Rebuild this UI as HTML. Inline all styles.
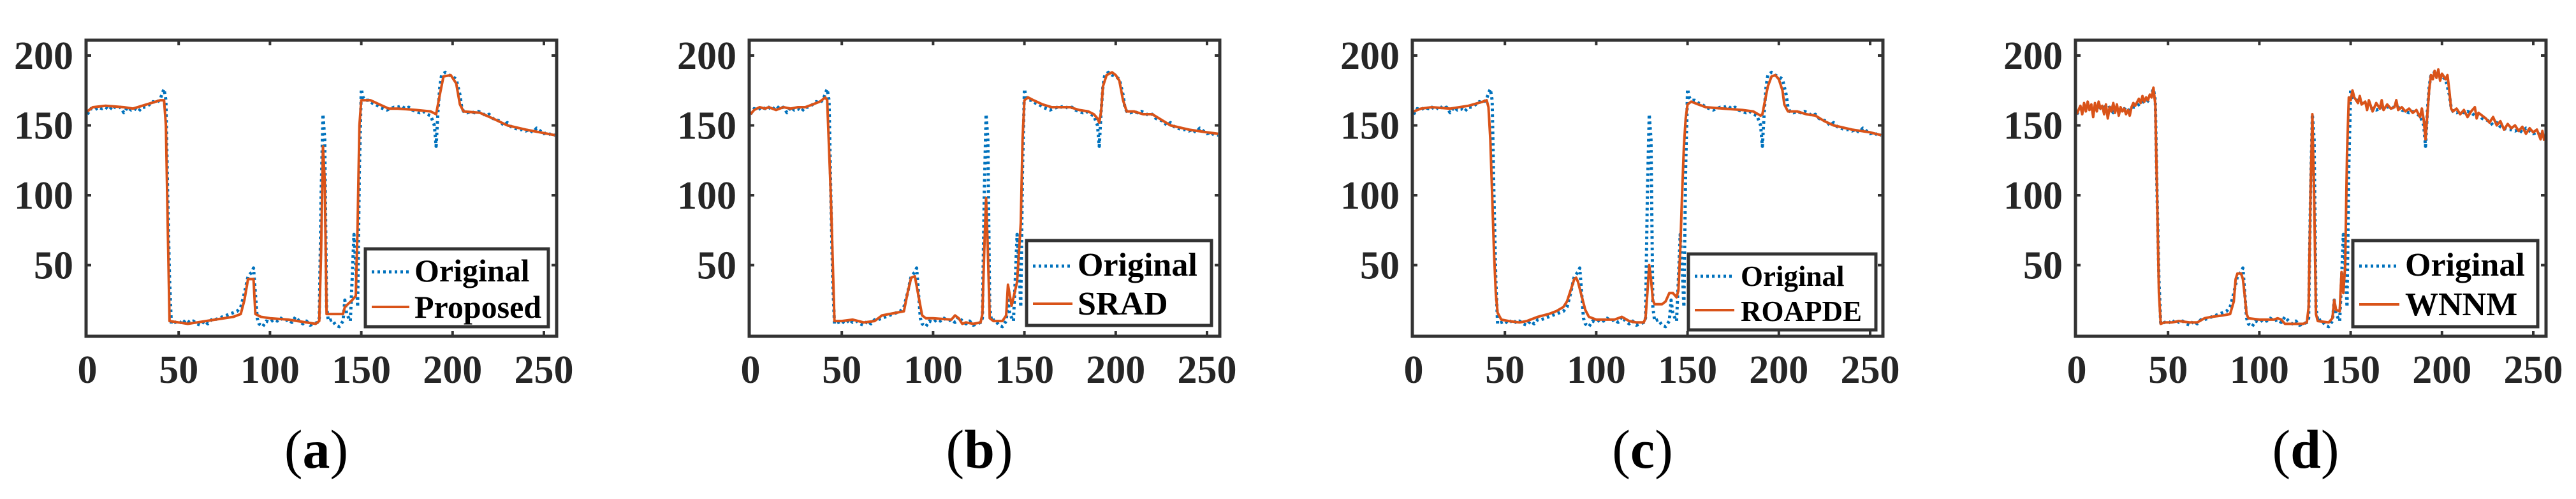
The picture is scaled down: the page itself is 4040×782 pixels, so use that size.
<!DOCTYPE html>
<html><head><meta charset="utf-8">
<style>
html,body{margin:0;padding:0;background:#fff;}
svg{display:block;}
svg text{font-family:"Liberation Serif","Times New Roman",serif;}
</style></head>
<body>
<svg id="fig" width="4040" height="782" viewBox="0 0 4040 782" xmlns="http://www.w3.org/2000/svg"></svg>
<script>
// ---- data ----
const xTicks = [0, 50, 100, 150, 200, 250];
const yTicks = [50, 100, 150, 200];
const panelLabels = ["a", "b", "c", "d"];
const methodNames = ["Proposed", "SRAD", "ROAPDE", "WNNM"];

const origX = [0,2,4,6,8,10,12,14,16,18, 20,22,24,26,28,30,32,34,36,38, 40,41,42,43,44,45,46,48,50,52,
 54,56,58,60,62,64,66,68,70,72, 74,76,78,80,82,84,86,88,90,91, 92,93,94,96,98,100,102,104,106,108,
 110,112,114,116,118,120,122,124,126,127, 128,129,130,131,132,134,136,138,140,141, 142,144,145,146,147,148,149,150,151,152,
 154,156,158,160,162,164,166,168,170,172, 174,176,178,180,182,184,186,188,190,191, 192,193,194,196,198,200,202,204,205,206,
 208,210,212,214,216,218,220,222,224,226, 228,230,232,234,236,238,240,242,244,246, 248,250,252,254,256];
const origY = [158,162,161,163,162,163,161,164,162,163, 159,163,161,162,160,163,163,165,167,166, 169,173,176,168,100,40,8,9,10,8,
 11,9,10,8,7,10,8,11,11,12, 13,14,15,16,17,20,30,42,45,48, 30,12,8,6,10,9,11,10,12,10,
 11,9,13,10,8,10,7,8,9,12, 100,158,140,20,10,11,7,6,10,25, 15,10,40,72,50,20,120,176,170,168,
 168,166,165,163,162,161,162,163,163,164, 162,163,161,160,159,160,158,157,150,135, 160,178,186,188,186,185,183,172,163,160,
 159,160,159,160,159,157,158,155,154,153, 150,152,149,148,147,147,146,147,145,148, 146,144,145,143,143];

const propX = [0,3,10,20,25,30,40,42,43,44, 45,50,55,60,70,80,84,86,88,91, 92,95,100,110,115,125,127,128,129,130,
 131,137,140,141,145,147,148,149,150,155, 160,165,170,180,188,191,193,195,199,202, 204,206,215,222,230,240,256];
const propY = [160,163,164,163,162,164,168,168,150,80, 10,9,8,9,11,13,15,25,40,40, 15,13,12,11,10,8,10,60,135,110,
 15,15,15,20,25,28,80,150,168,168, 165,162,162,161,160,158,172,185,186,180, 165,160,159,155,150,147,143];

const sradX = [0,2,5,8,10,14,18,22,26,30, 34,38,41,42,44,46,50,56,62,68, 72,76,80,84,86,88,90,92,94,96,
 100,110,112,114,116,118,122,126,127,128, 129,130,131,133,138,140,141,143,146,148, 149,150,152,155,160,165,170,175,180,185,
 188,190,191,192,193,195,198,200,202,204, 206,210,215,220,225,230,240,250,256];
const sradY = [158,161,163,162,163,161,163,162,163,163, 165,167,170,168,100,10,10,11,9,10, 14,15,16,17,30,41,42,28,14,12,
 12,11,14,12,8,9,8,9,15,60, 98,60,12,10,10,14,36,21,38,80, 140,168,170,168,165,163,163,163,161,160,
 158,155,152,160,178,186,188,186,182,168, 160,160,158,158,154,150,147,145,144];

const roapX = [0,4,10,20,30,38,40,41,42,43, 44,45,46,48,52,58,62,68,74,78, 82,84,86,88,89,90,92,94,96,100,
 110,114,118,122,126,127,128,129,130,131, 132,136,138,140,142,144,145,146,147,148, 149,150,152,156,160,170,180,186,190,191,
 192,194,196,198,200,202,203,205,210,215, 220,225,230,240,250,256];
const roapY = [160,162,163,162,164,167,168,163,140,100, 60,30,16,11,10,9,10,13,15,17, 20,24,32,40,41,38,28,18,13,11,
 11,13,10,9,9,12,30,50,40,25, 22,22,24,30,30,27,32,60,100,135, 155,165,167,165,163,162,161,160,157,158,
 165,178,185,186,183,175,165,160,160,158, 157,153,150,147,145,143];

const wnnmX = [0,2,3,4,5,6,7,8,9,10, 11,12,13,14,15,16,17,18,19,20, 21,22,23,24,25,26,27,28,29,30,
 31,32,34,35,36,37,38,39,40,41, 42,43,44,45,46,48,52,56,62,66, 70,74,80,84,86,87,88,90,91,92,
 93,94,100,108,110,112,114,116,124,126, 127,128,129,130,131,132,138,140,141,142, 144,145,146,147,148,149,150,151,152,154,
 155,156,158,159,160,162,164,166,167,168, 170,172,174,175,176,178,180,182,184,186, 188,189,190,191,192,193,194,195,196,197,
 198,199,200,202,203,204,205,206,208,210, 212,214,216,218,219,220,222,224,226,228, 230,232,234,236,238,240,242,244,246,248,
 250,252,254,255,256];
const wnnmY = [158,164,158,166,160,167,161,165,156,166, 160,167,162,164,158,165,155,163,160,166, 159,165,157,163,160,162,158,161,157,163,
 166,164,169,166,171,167,170,168,172,170, 177,165,100,30,8,9,9,10,9,9, 12,13,14,15,24,40,44,44,40,28,
 15,12,11,11,12,11,8,8,8,9, 20,100,158,100,15,10,9,12,25,18, 17,45,30,50,130,170,168,175,170,166,
 171,165,167,161,168,160,166,162,168,161, 165,162,163,168,161,163,160,162,159,161, 156,162,154,140,158,176,186,183,189,184,
 190,182,187,183,186,175,162,160,162,158, 161,156,160,163,155,159,157,155,152,156, 150,153,147,151,148,150,146,149,144,148,
 145,147,140,146,139];

const methodX = [propX, sradX, roapX, wnnmX];
const methodY = [propY, sradY, roapY, wnnmY];

// ---- layout ----
const PANEL_DX = 1040;
const AX = {l:135, r:873, t:63, b:527};
const X0 = 137, XS = 2.864, Y0 = 525, YS = 2.19;
const FONT = '"Liberation Serif", "Times New Roman", serif';
const legends = [
  {x:573, y:390, w:287, h:122, tx:650, b1:441, b2:498, fs:50, l1:583, l2:642},
  {x:1610-1040, y:377, w:290, h:133, tx:1690-1040, b1:432, b2:493, fs:52, l1:580, l2:642},
  {x:2648-2080, y:398, w:294, h:119, tx:2730-2080, b1:448, b2:503, fs:45, l1:578, l2:640},
  {x:3690-3120, y:377, w:290, h:135, tx:3772-3120, b1:432, b2:494, fs:52, l1:580, l2:643}
];

const NS = "http://www.w3.org/2000/svg";
const svg = document.getElementById("fig");
function mk(tag, attrs, parent){
  const e = document.createElementNS(NS, tag);
  for (const k in attrs) e.setAttribute(k, attrs[k]);
  if (tag === "text") e.setAttribute("font-family", FONT);
  (parent||svg).appendChild(e);
  return e;
}
function xPix(v){ return X0 + v*XS; }
function yPix(v){ return Y0 - v*YS; }
function pathD(xs, ys){
  const n = Math.min(xs.length, ys.length);
  let d = "";
  for (let i=0;i<n;i++) d += (i?"L":"M") + xPix(xs[i]).toFixed(1) + "," + yPix(ys[i]).toFixed(1);
  return d;
}

const defs = mk("defs", {});
const cp = mk("clipPath", {id:"axclip"}, defs);
mk("rect", {x:AX.l, y:AX.t, width:AX.r-AX.l, height:AX.b-AX.t}, cp);

for (let p=0; p<4; p++){
  const g = mk("g", {transform:"translate("+(p*PANEL_DX)+",0)"});
  
  

  const plot = mk("g", {"clip-path":"url(#axclip)"}, g);
  const o = mk("path", {d:pathD(origX, origY), fill:"none", stroke:"#0072BD", "stroke-width":5, "stroke-dasharray":"4 5", "stroke-linejoin":"round"}, plot);
  
  
  const m = mk("path", {d:pathD(methodX[p], methodY[p]), fill:"none", stroke:"#D95319", "stroke-width":4, "stroke-linejoin":"round"}, plot);
  
  

  for (const t of xTicks){
    if (t===0) continue;
    const x = xPix(t);
    mk("line", {x1:x, y1:AX.b, x2:x, y2:AX.b-8, stroke:"#333", "stroke-width":4}, g);
    mk("line", {x1:x, y1:AX.t, x2:x, y2:AX.t+8, stroke:"#333", "stroke-width":4}, g);
  }
  for (const t of xTicks){
    const tx = mk("text", {x:xPix(t), y:600, "font-size":62, "font-weight":"bold", "text-anchor":"middle", fill:"#262626"}, g);
    tx.textContent = t;
    
    
  }
  for (const t of yTicks){
    const y = yPix(t);
    mk("line", {x1:AX.l, y1:y, x2:AX.l+8, y2:y, stroke:"#333", "stroke-width":4}, g);
    mk("line", {x1:AX.r, y1:y, x2:AX.r-8, y2:y, stroke:"#333", "stroke-width":4}, g);
    const ty = mk("text", {x:115, y:y+21, "font-size":62, "font-weight":"bold", "text-anchor":"end", fill:"#262626"}, g);
    ty.textContent = t;
    
    
  }
  const box = mk("rect", {x:AX.l, y:AX.t, width:AX.r-AX.l, height:AX.b-AX.t, fill:"none", stroke:"#333", "stroke-width":5}, g);
  
  

  const L = legends[p];
  const lg = mk("g", {}, g);
  
  
  mk("rect", {x:L.x, y:L.y, width:L.w, height:L.h, fill:"#fff", stroke:"#333", "stroke-width":5}, lg);
  mk("line", {x1:L.l1, y1:L.b1-15, x2:L.l2, y2:L.b1-15, stroke:"#0072BD", "stroke-width":5, "stroke-dasharray":"4 5"}, lg);
  mk("line", {x1:L.l1, y1:L.b2-17, x2:L.l2, y2:L.b2-17, stroke:"#D95319", "stroke-width":4}, lg);
  const t1 = mk("text", {x:L.tx, y:L.b1, "font-size":L.fs, "font-weight":"bold", fill:"#000"}, lg);
  t1.textContent = "Original";
  
  
  const t2 = mk("text", {x:L.tx, y:L.b2, "font-size":L.fs, "font-weight":"bold", fill:"#000"}, lg);
  t2.textContent = methodNames[p];
  
  

  const cap = mk("text", {x:496, y:733, "font-size":86, "text-anchor":"middle", fill:"#000"}, g);
  
  
  const s1 = mk("tspan", {}, cap); s1.textContent = "(";
  const s2 = mk("tspan", {"font-weight":"bold"}, cap); s2.textContent = panelLabels[p];
  const s3 = mk("tspan", {}, cap); s3.textContent = ")";
}
</script>
</body></html>
